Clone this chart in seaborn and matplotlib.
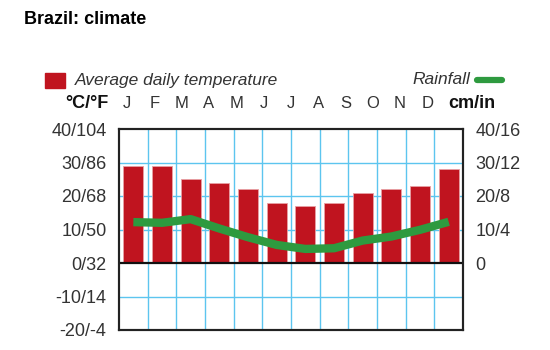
import matplotlib
matplotlib.use("Agg")
import matplotlib.pyplot as plt
import seaborn as sns
import pandas as pd
import numpy as np

months = ["J", "F", "M", "A", "M", "J", "J", "A", "S", "O", "N", "D"]
temperature_c = [29, 29, 25, 24, 22, 18, 17, 18, 21, 22, 23, 28]
rainfall_cm = [12.2, 12.0, 13.1, 10.3, 7.7, 5.4, 4.2, 4.4, 6.7, 7.9, 9.9, 12.3]
left_ticks = [40, 30, 20, 10, 0, -10, -20]
left_labels = ["40/104", "30/86", "20/68", "10/50", "0/32", "-10/14", "-20/-4"]
right_ticks = [40, 30, 20, 10, 0]
right_labels = ["40/16", "30/12", "20/8", "10/4", "0"]

sns.set_theme(style="white")
plt.rcParams["font.family"] = ["Liberation Sans", "DejaVu Sans"]

RED = "#c0141f"
GREEN = "#2e9a3f"
GRID = "#5cc5ef"
TXT = "#333333"

df = pd.DataFrame({"idx": np.arange(12), "month": months,
                   "temp": temperature_c, "rain": rainfall_cm})

fig = plt.figure(figsize=(5.5, 3.5), dpi=100)
ax = fig.add_axes([119 / 550, 1 - 330 / 350, (463 - 119) / 550, (330 - 129) / 350])

sns.barplot(data=df, x="idx", y="temp", color=RED, width=0.7,
            edgecolor="#e8a0a4", linewidth=0.6, saturation=1, ax=ax, zorder=3)
ax.set_xlim(-0.5, 11.5)
ax.set_ylim(-20, 40)

# grid
for b in np.arange(0.5, 11.5, 1.0):
    ax.axvline(b, color=GRID, lw=1.0, zorder=1)
for t in [30, 20, 10, -10]:
    ax.axhline(t, color=GRID, lw=1.0, zorder=1)
ax.axhline(0, color="#111111", lw=1.6, zorder=4)

ax2 = ax.twinx()
sns.lineplot(data=df, x="idx", y="rain", color=GREEN, lw=6, ax=ax2,
             solid_capstyle="butt", zorder=5)
ax2.set_xlim(-0.5, 11.5)
ax2.set_ylim(-20, 40)

ax.set_xticks([])
ax.set_xlabel("")
ax.set_ylabel("")
ax2.set_xlabel("")
ax2.set_ylabel("")
ax.set_yticks(left_ticks)
ax.set_yticklabels(left_labels)
ax2.set_yticks(right_ticks)
ax2.set_yticklabels(right_labels)
for a in (ax, ax2):
    a.tick_params(axis="y", length=0, labelsize=13, colors=TXT, pad=9)
    for s in a.spines.values():
        s.set_color("#222222")
        s.set_linewidth(1.5)

# month letters along the top
for i, m in enumerate(months):
    fig.text((127 + i * 27.3) / 550, 1 - 104 / 350, m, ha="center", va="center",
             fontsize=12, color=TXT)
fig.text(108 / 550, 1 - 104 / 350, "°C/°F", ha="right", va="center",
         fontsize=13, fontweight="bold", color="#111111")
fig.text(448 / 550, 1 - 104 / 350, "cm/in", ha="left", va="center",
         fontsize=13, fontweight="bold", color="#111111")

# legend
fig.patches.append(plt.Rectangle((45 / 550, 1 - 88 / 350), 20 / 550, 15 / 350,
                                 transform=fig.transFigure, color=RED))
fig.text(75 / 550, 1 - 80 / 350, "Average daily temperature", ha="left", va="center",
         fontsize=12.5, style="italic", color=TXT)
fig.text(470 / 550, 1 - 80 / 350, "Rainfall", ha="right", va="center",
         fontsize=12.5, style="italic", color=TXT)
fig.lines.append(plt.Line2D([477 / 550, 502 / 550], [1 - 80 / 350, 1 - 80 / 350],
                            transform=fig.transFigure, color=GREEN, lw=4.5))

fig.text(24 / 550, 1 - 19 / 350, "Brazil: climate", ha="left", va="center",
         fontsize=13, fontweight="bold", color="#000000")

fig.savefig("out.png", dpi=100, facecolor="white")
